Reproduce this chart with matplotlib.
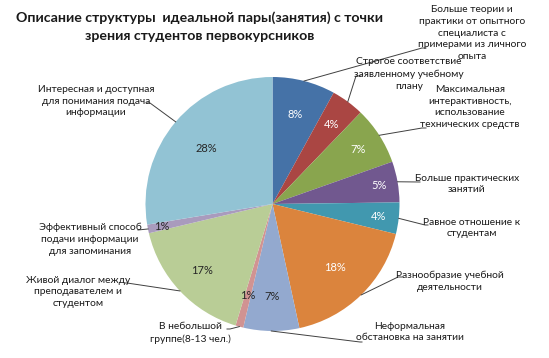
import numpy as np
import matplotlib
matplotlib.use("Agg")
import matplotlib.pyplot as plt

plt.rcParams['font.family'] = ['Lato', 'DejaVu Sans']

# slice shares (percent)
categories = [
    "Больше теории и\nпрактики от опытного\nспециалиста с\nпримерами из личного\nопыта",
    "Строгое соответствие\nзаявленному учебному\nплану",
    "Максимальная\nинтерактивность,\nиспользование\nтехнических средств",
    "Больше практических\nзанятий",
    "Равное отношение к\nстудентам",
    "Разнообразие учебной\nдеятельности",
    "Неформальная\nобстановка на занятии",
    "В небольшой\nгруппе(8-13 чел.)",
    "Живой диалог между\nпреподавателем и\nстудентом",
    "Эффективный способ\nподачи информации\nдля запоминания",
    "Интересная и доступная\nдля понимания подача\nинформации",
]
values = [8.0, 4.2, 7.4, 5.2, 4.0, 17.8, 7.1, 1.0, 16.6, 1.1, 27.6]

colors = ['#4572A7', '#AA4643', '#89A54E', '#71588F', '#4198AF', '#DB843D',
          '#93A9CF', '#D19392', '#B9CD96', '#A99BBD', '#92C3D4']
pct_colors = ['white'] * 6 + ['#262626'] * 5
pct_radius = [0.73, 0.78, 0.80, 0.85, 0.84, 0.70, 0.73, 0.75, 0.76, 0.89, 0.68]

W, H = 549, 358
CX, CY, R = 272.5, 204, 127


def px(x, y):
    # pixel position in the picture -> pie data units
    return (x - CX) / R, (CY - y) / R


# label text centre and leader end (pixels), leader tick direction
label_pos = [(472, 33), (409, 74), (470, 107), (467, 184), (472, 228), (450, 281),
             (410, 332), (190, 333), (78, 292), (90, 239), (96, 101)]
leader_end = [(426, 48), (361, 76), (426, 128), (420, 182), (428, 225), (402, 277),
              (362, 342), (227, 329), (125, 283), (138, 230), (147, 103)]
tick = [-4, -5, -4, 0, -3, -4, -2, 3, 2, 0, 3]

fig = plt.figure(figsize=(W / 100, H / 100), dpi=100)
ax = fig.add_axes([0, 0, 1, 1])

wedges, _ = ax.pie(values, colors=colors, startangle=90, counterclock=False,
                   radius=1, center=(0, 0), frame=True,
                   wedgeprops=dict(linewidth=0))
ax.set_xlim(-CX / R, (W - CX) / R)
ax.set_ylim((CY - H) / R, CY / R)
ax.axis('off')

for i, w in enumerate(wedges):
    mid = np.deg2rad((w.theta1 + w.theta2) / 2)
    r = pct_radius[i]
    ax.text(r * np.cos(mid), r * np.sin(mid), f"{round(values[i])}%",
            ha='center', va='center', fontsize=8, color=pct_colors[i])

    # label + leader line
    tx, ty = px(*label_pos[i])
    ax.text(tx, ty, categories[i], ha='center', va='center', fontsize=7.4,
            color='#1a1a1a', linespacing=1.42)
    ex, ey = px(*leader_end[i])
    sx, sy = np.cos(mid), np.sin(mid)
    kx = ex + tick[i] / R
    ax.plot([sx, kx, ex], [sy, ey, ey], color='#404040', lw=0.7)

fig.text(200 / W, 1 - 27 / H,
         "Описание структуры  идеальной пары(занятия) с точки\nзрения студентов первокурсников",
         ha='center', va='center', fontsize=10.2, fontweight='bold',
         color='#1a1a1a', linespacing=1.6)

fig.savefig('out.png', dpi=100, facecolor='white')
